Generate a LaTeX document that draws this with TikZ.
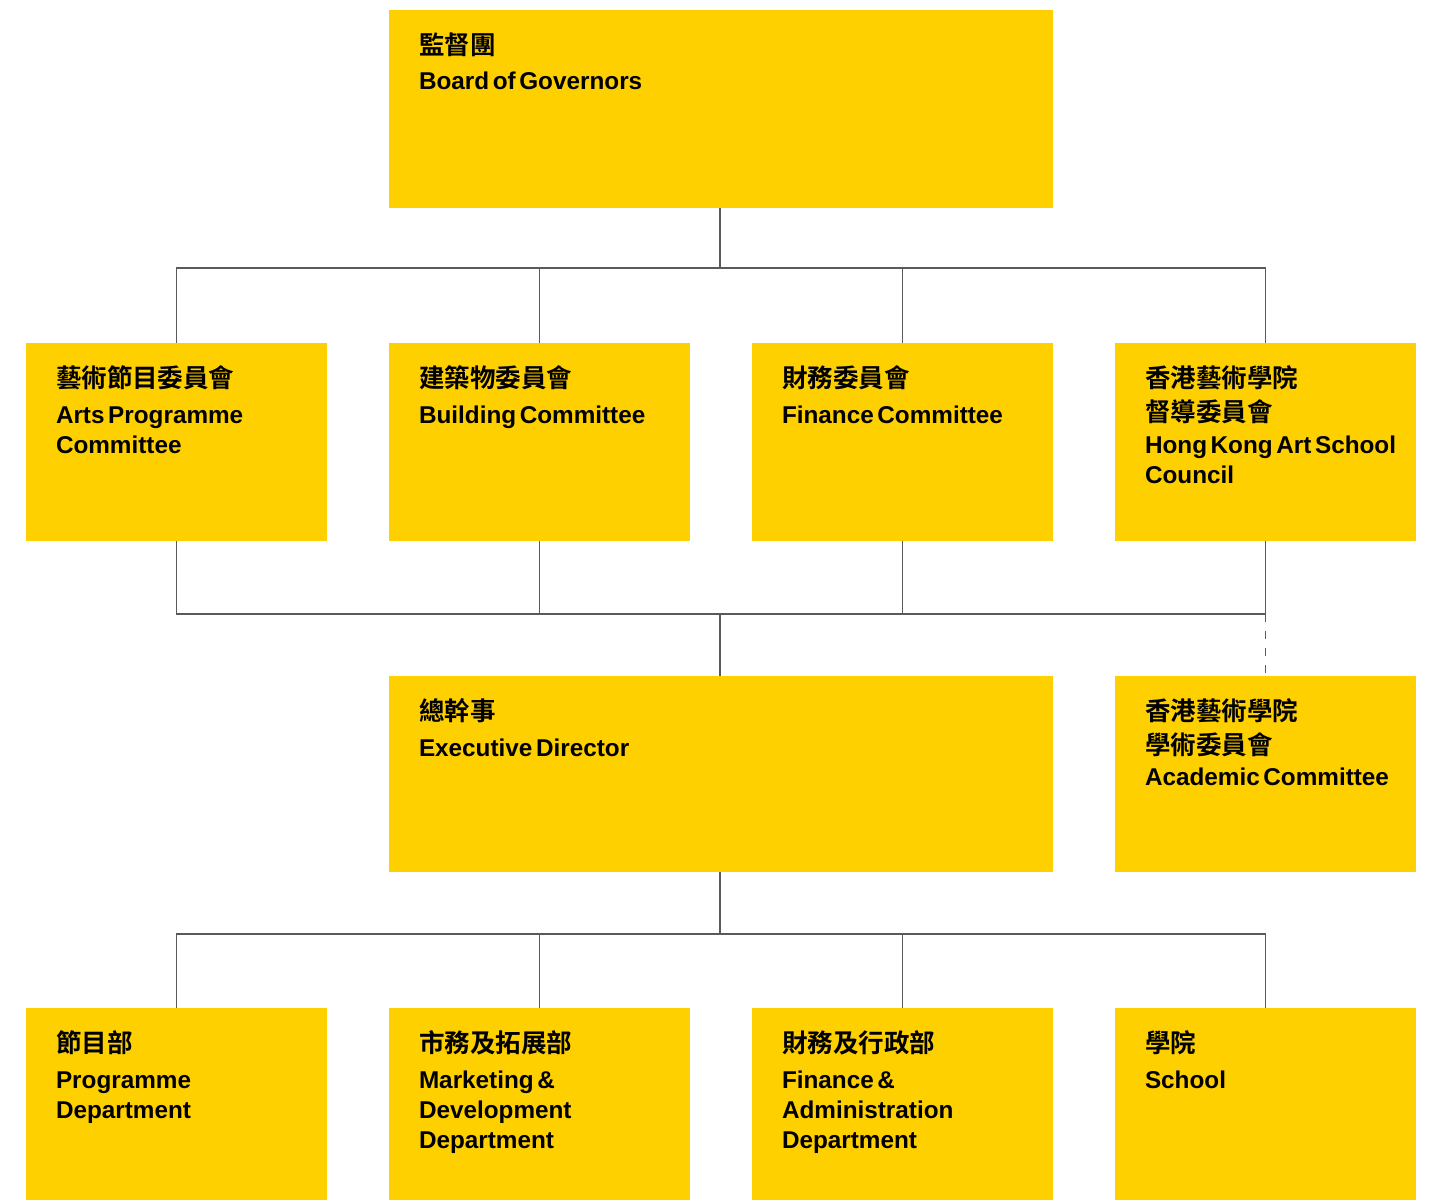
\documentclass[tikz,border=0pt]{standalone}
\usepackage{fontspec}
\setmainfont{Liberation Sans}[BoldFont={Liberation Sans Bold}]
\newfontfamily\cjk{Noto Sans CJK TC}[BoldFont={* Bold}]
\newcommand{\zh}[1]{{\cjk\bfseries\fontsize{25.5}{30}\selectfont #1}}
\newcommand{\tightsp}{\spaceskip=3.6pt plus 1pt minus 0.5pt\relax}
\definecolor{ylw}{HTML}{FFD000}
\definecolor{lnc}{HTML}{5A5A5A}
\begin{document}
\begin{tikzpicture}[x=1pt,y=-1pt,
  box/.style={fill=ylw, draw=none, inner sep=0pt, outer sep=0pt, anchor=north west},
  txt/.style={anchor=base west, inner sep=0pt, outer sep=0pt, text width=285pt, align=left,
    font=\bfseries\fontsize{24.3}{30}\selectfont, text=black, execute at begin node=\tightsp},
  conn/.style={draw=lnc, line width=1.4pt},
]
\useasboundingbox (0,0) rectangle (1435,1200);
% boxes
\node[box, minimum width=664pt, minimum height=198pt] (board) at (389,10) {};
\node[box, minimum width=301pt, minimum height=198pt] (b1) at (26,343) {};
\node[box, minimum width=301pt, minimum height=198pt] (b2) at (389,343) {};
\node[box, minimum width=301pt, minimum height=198pt] (b3) at (752,343) {};
\node[box, minimum width=301pt, minimum height=198pt] (b4) at (1115,343) {};
\node[box, minimum width=664pt, minimum height=196pt] (exec) at (389,676) {};
\node[box, minimum width=301pt, minimum height=196pt] (acad) at (1115,676) {};
\node[box, minimum width=301pt, minimum height=192pt] (d1) at (26,1008) {};
\node[box, minimum width=301pt, minimum height=192pt] (d2) at (389,1008) {};
\node[box, minimum width=301pt, minimum height=192pt] (d3) at (752,1008) {};
\node[box, minimum width=301pt, minimum height=192pt] (d4) at (1115,1008) {};
% texts
\node[txt] (tboard) at ([xshift=30pt,yshift=-44pt]board.north west) {\zh{監督團}\\[5pt]Board of Governors};
\node[txt] (tb1) at ([xshift=30pt,yshift=-44pt]b1.north west) {\zh{藝術節目委員會}\\[6pt]Arts Programme\\Committee};
\node[txt] (tb2) at ([xshift=30pt,yshift=-44pt]b2.north west) {\zh{建築物委員會}\\[6pt]Building Committee};
\node[txt] (tb3) at ([xshift=30pt,yshift=-44pt]b3.north west) {\zh{財務委員會}\\[6pt]Finance Committee};
\node[txt] (tb4) at ([xshift=30pt,yshift=-44pt]b4.north west) {\zh{香港藝術學院}\\[4pt]\zh{督導委員會}\\[2pt]Hong Kong Art School\\Council};
\node[txt] (texec) at ([xshift=30pt,yshift=-44pt]exec.north west) {\zh{總幹事}\\[6pt]Executive Director};
\node[txt] (tacad) at ([xshift=30pt,yshift=-44pt]acad.north west) {\zh{香港藝術學院}\\[4pt]\zh{學術委員會}\\[1pt]Academic Committee};
\node[txt] (td1) at ([xshift=30pt,yshift=-44pt]d1.north west) {\zh{節目部}\\[6pt]Programme\\Department};
\node[txt] (td2) at ([xshift=30pt,yshift=-44pt]d2.north west) {\zh{市務及拓展部}\\[6pt]Marketing \&\\Development\\Department};
\node[txt] (td3) at ([xshift=30pt,yshift=-44pt]d3.north west) {\zh{財務及行政部}\\[6pt]Finance \&\\Administration\\Department};
\node[txt] (td4) at ([xshift=30pt,yshift=-44pt]d4.north west) {\zh{學院}\\[6pt]School};
% connectors
\coordinate (bus1) at (720,268);
\coordinate (bus2) at (720,614);
\coordinate (bus3) at (720,934);
\draw[conn] (board.south -| bus1) -- (bus1);
\draw[conn] (b1.north) |- (bus1);
\draw[conn] (b2.north) |- (bus1);
\draw[conn] (b3.north) |- (bus1);
\draw[conn] (b4.north) |- (bus1);
\draw[conn] (b1.south) |- (bus2);
\draw[conn] (b2.south) |- (bus2);
\draw[conn] (b3.south) |- (bus2);
\draw[conn] (b4.south) |- (bus2);
\draw[conn] (bus2) -- (exec.north -| bus2);
\coordinate (dj) at (b4.south |- bus2);
\draw[conn, dash pattern=on 8pt off 9pt] (dj) -- (acad.north);
\draw[conn] (exec.south -| bus3) -- (bus3);
\draw[conn] (d1.north) |- (bus3);
\draw[conn] (d2.north) |- (bus3);
\draw[conn] (d3.north) |- (bus3);
\draw[conn] (d4.north) |- (bus3);
\end{tikzpicture}
\end{document}
